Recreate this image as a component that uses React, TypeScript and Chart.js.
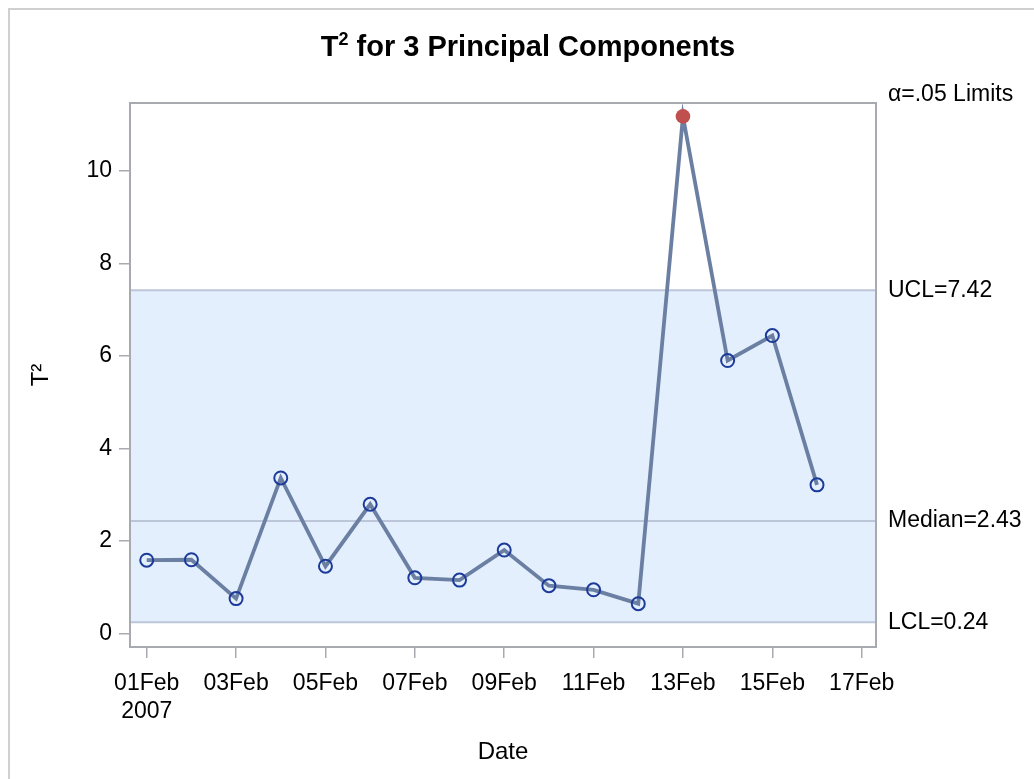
import React, { useEffect, useRef } from "react";
import { Chart, registerables } from "chart.js";

Chart.register(...registerables);

// ---- data ----
const dayNumbers = [1, 2, 3, 4, 5, 6, 7, 8, 9, 10, 11, 12, 13, 14, 15, 16];
const t2Values = [1.58, 1.59, 0.75, 3.36, 1.45, 2.79, 1.2, 1.15, 1.8, 1.03, 0.94, 0.64, 11.18, 5.9, 6.44, 3.21];
const xTickValues = [1, 3, 5, 7, 9, 11, 13, 15, 17];
const xTickLabels = ["01Feb", "03Feb", "05Feb", "07Feb", "09Feb", "11Feb", "13Feb", "15Feb", "17Feb"];
const yearLabel = "2007";
const yTickValues = [0, 2, 4, 6, 8, 10];
const limitValues = [7.42, 2.43, 0.24]; // UCL, Median, LCL
const limitLabels = ["UCL=7.42", "Median=2.43", "LCL=0.24"];
const limitsHeader = "α=.05 Limits";
const titleMain = "T";
const titleSup = "2";
const titleRest = " for 3 Principal Components";
const yAxisTitle = "T²";
const xAxisTitle = "Date";

const FONT = "'Liberation Sans', Arial, sans-serif";
const UCL = limitValues[0];
const LCL = limitValues[2];

const decorPlugin = {
  id: "decor",
  beforeDraw(chart: any) {
    const ctx = chart.ctx;
    ctx.save();
    ctx.fillStyle = "#ffffff";
    ctx.fillRect(0, 0, chart.width, chart.height);
    ctx.fillStyle = "#d0d0d0";
    ctx.fillRect(8, 8, 2, chart.height - 8);
    ctx.fillRect(8, 8, chart.width - 8, 2);
    ctx.restore();
  },
  beforeDatasetsDraw(chart: any) {
    const { ctx, chartArea } = chart;
    const y = chart.scales.y;
    const yU = y.getPixelForValue(UCL);
    const yL = y.getPixelForValue(LCL);
    ctx.save();
    ctx.fillStyle = "rgb(227,239,253)";
    ctx.fillRect(chartArea.left, yU, chartArea.right - chartArea.left, yL - yU);
    ctx.strokeStyle = "#bcc6d8";
    ctx.lineWidth = 2;
    limitValues.forEach((v) => {
      const py = y.getPixelForValue(v);
      ctx.beginPath();
      ctx.moveTo(chartArea.left, py);
      ctx.lineTo(chartArea.right, py);
      ctx.stroke();
    });
    ctx.restore();
  },
  afterDraw(chart: any) {
    const { ctx, chartArea } = chart;
    const y = chart.scales.y;
    ctx.save();
    // frame
    ctx.strokeStyle = "#a7abb0";
    ctx.lineWidth = 2;
    ctx.strokeRect(chartArea.left, chartArea.top, chartArea.right - chartArea.left, chartArea.bottom - chartArea.top);

    ctx.fillStyle = "#000000";
    // title
    const bigFont = `bold 29px ${FONT}`;
    const supFont = `bold 18px ${FONT}`;
    ctx.font = bigFont;
    const wT = ctx.measureText(titleMain).width;
    const wR = ctx.measureText(titleRest).width;
    ctx.font = supFont;
    const wS = ctx.measureText(titleSup).width;
    const total = wT + wS + wR;
    const x0 = 528 - total / 2;
    const base = 56;
    ctx.textBaseline = "alphabetic";
    ctx.textAlign = "left";
    ctx.font = bigFont;
    ctx.fillText(titleMain, x0, base);
    ctx.font = supFont;
    ctx.fillText(titleSup, x0 + wT, base - 11);
    ctx.font = bigFont;
    ctx.fillText(titleRest, x0 + wT + wS, base);

    // limit labels
    ctx.font = `23px ${FONT}`;
    ctx.textBaseline = "middle";
    ctx.fillText(limitsHeader, 888, 95);
    limitValues.forEach((v, i) => {
      ctx.fillText(limitLabels[i], 888, y.getPixelForValue(v));
    });

    // axis titles
    ctx.font = `24px ${FONT}`;
    ctx.textAlign = "center";
    ctx.fillText(xAxisTitle, (chartArea.left + chartArea.right) / 2, 752);
    ctx.translate(41, (chartArea.top + chartArea.bottom) / 2);
    ctx.rotate(-Math.PI / 2);
    ctx.fillText(yAxisTitle, 0, 0);
    ctx.restore();
  },
};

export default function App() {
  const ref = useRef<HTMLCanvasElement | null>(null);
  useEffect(() => {
    if (!ref.current) return;
    const chart = new Chart(ref.current, {
      type: "line",
      data: {
        datasets: [
          {
            data: dayNumbers.map((d, i) => ({ x: d, y: t2Values[i] })),
            borderColor: "#6b7fa3",
            borderWidth: 3.8,
            pointRadius: (c: any) => (c.raw && c.raw.y > UCL ? 7.3 : 6.5),
            pointBorderWidth: (c: any) => (c.raw && c.raw.y > UCL ? 0 : 2),
            pointBorderColor: (c: any) => (c.raw && c.raw.y > UCL ? "#c0504d" : "#1c3a99"),
            pointBackgroundColor: (c: any) => (c.raw && c.raw.y > UCL ? "#c0504d" : "rgba(0,0,0,0)"),
            fill: false,
            tension: 0,
          },
        ],
      },
      options: {
        animation: false,
        responsive: false,
        devicePixelRatio: 1,
        layout: { padding: { left: 0, right: 158, top: 103, bottom: 0 } },
        plugins: { legend: { display: false }, title: { display: false }, tooltip: { enabled: false } },
        scales: {
          x: {
            type: "linear",
            min: 0.626,
            max: 17.32,
            afterBuildTicks: (s: any) => {
              s.ticks = xTickValues.map((v) => ({ value: v }));
            },
            afterFit: (s: any) => {
              s.height = 132;
            },
            grid: { drawOnChartArea: false, drawTicks: true, tickLength: 11, color: "#a7abb0", lineWidth: 1.5 },
            border: { display: false },
            ticks: {
              autoSkip: false,
              maxRotation: 0,
              padding: 12,
              color: "#000000",
              font: { family: FONT, size: 23, lineHeight: 1.22 },
              callback: (value: any) => {
                const idx = xTickValues.indexOf(Number(value));
                if (idx < 0) return "";
                return idx === 0 ? [xTickLabels[idx], yearLabel] : xTickLabels[idx];
              },
            },
          },
          y: {
            type: "linear",
            min: -0.297,
            max: 11.47,
            afterBuildTicks: (s: any) => {
              s.ticks = yTickValues.map((v) => ({ value: v }));
            },
            afterFit: (s: any) => {
              s.width = 130;
            },
            grid: { drawOnChartArea: false, drawTicks: true, tickLength: 11, color: "#a7abb0", lineWidth: 1.5 },
            border: { display: false },
            ticks: {
              padding: 7,
              color: "#000000",
              font: { family: FONT, size: 23 },
              callback: (v: any) => String(v),
            },
          },
        },
      },
      plugins: [decorPlugin],
    } as any);
    return () => chart.destroy();
  }, []);
  return (
    <div style={{ position: "absolute", left: 0, top: 0, width: 1034, height: 779 }}>
      <canvas ref={ref} width={1034} height={779} style={{ width: 1034, height: 779, display: "block" }} />
    </div>
  );
}
